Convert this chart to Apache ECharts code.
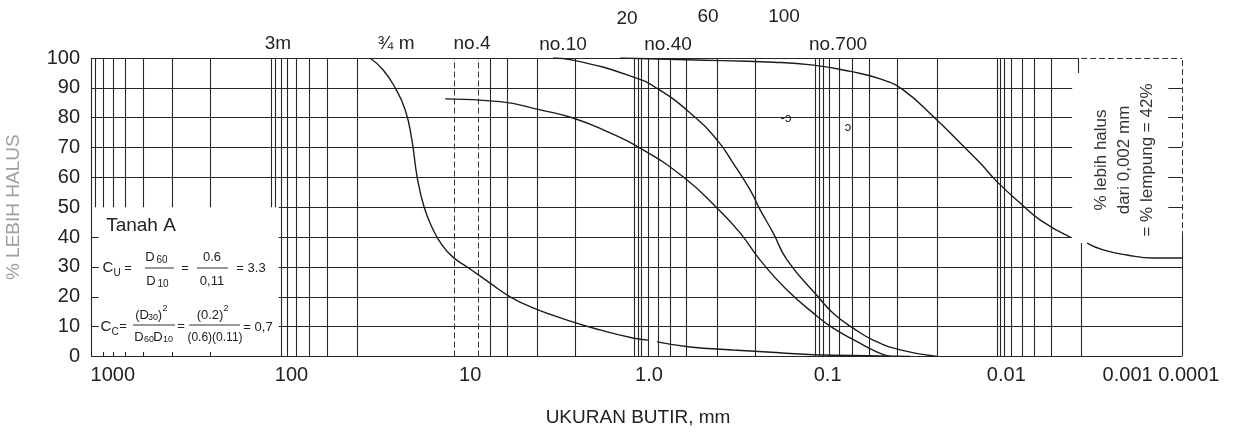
<!DOCTYPE html>
<html><head><meta charset="utf-8">
<script src="https://cdn.jsdelivr.net/npm/echarts@6/dist/echarts.min.js"></script>
<style>html,body{margin:0;padding:0;background:#fff}#c{width:1239px;height:433px}</style>
</head><body><div id="c"></div>
<script>
// ---------- axis ticks ----------
const xTickValues = [1000, 100, 10, 1, 0.1, 0.01, 0.001];
const xTickLabels = ['1000', '100', '10', '1.0', '0.1', '0.01', '0.001 0.0001'];
const yTickValues = [0, 10, 20, 30, 40, 50, 60, 70, 80, 90, 100];

// ---------- sieve annotations (top) ----------
const sieveNames = ['3m', '¾ m', 'no.4', 'no.10', 'no.40', '20', '60', '100', 'no.700'];

// ---------- grading curves: grain size (mm) / % finer ----------
const curveA_size = [36.4, 30.7, 26.3, 23.1, 21.2, 19.8, 18.1, 16.1, 14.4, 12.5, 10.4, 7.74, 5.98, 4.45, 2.87, 1.88, 1.23, 1.01, '-', 0.90, 0.588, 0.338, 0.218, 0.12, 0.0508, 0.0345];
const curveA_pct  = [100, 96, 90, 82.6, 72.5, 60, 50, 42.4, 37.4, 33.3, 30, 24.6, 20, 16.3, 12.2, 8.9, 6.2, 5.5, '-', 4.9, 3.2, 2.2, 1.5, 0.6, 0.2, 0];

const curveB_size = [13.8, 6.81, 4.06, 2.66, 1.71, 1.12, 0.644, 0.415, 0.309, 0.2385, 0.171, 0.1145, 0.0931, 0.0684, 0.0528, 0.0447];
const curveB_pct  = [86.3, 85.4, 82.6, 79.9, 75.3, 69.8, 60.2, 49.7, 41.4, 32.3, 22.6, 13.5, 9.5, 5, 1.5, 0];

const curveC_size = [3.44, 2.66, 1.23, 0.90, 0.588, 0.415, 0.338, 0.2715, 0.2385, 0.2017, 0.1684, 0.113, 0.0931, 0.0719, 0.0556, 0.0393, 0.0244];
const curveC_pct  = [100, 99.3, 93.7, 89.8, 81.6, 72.5, 64.8, 55.8, 49.1, 41.4, 32.3, 20, 14.5, 9.5, 5.5, 2.2, 0];

const curveD_size = [1.45, 0.611, 0.2, 0.12, 0.0748, 0.0508, 0.0378, 0.0247, 0.01812, 0.0140, 0.01124, 0.00837, 0.00646, 0.00439, '-', 0.00353, 0.00287, 0.00211, 0.00151, 0.00104];
const curveD_pct  = [100, 99.4, 98.6, 97.6, 95.5, 93, 89.3, 79.5, 71.5, 64.8, 58.5, 51.4, 45.7, 40, '-', 38, 35.7, 34, 33, 33];

// ---------- printed grid of the form (grain sizes, mm) ----------
const vLinesUpper  = [1258, 1135, 998, 855, 678, 466, 286, 130, 124];
const vLinesFull   = [114, 106, 94.4, 79.8, 63.3, 43.0, 7.74, 6.22, 4.22, 2.59, 1.21, 1.15, 1.106, 1.01, 0.888, 0.761, 0.619, 0.415, 0.254, 0.1174, 0.1115, 0.1059, 0.098, 0.0862, 0.0729, 0.0586, 0.0408, 0.0244, 0.01125, 0.01082, 0.01028, 0.00939, 0.00815, 0.00698, 0.00561];
const vLinesDashed = [12.3, 9.04];
const boxTicks     = [1135, 998, 855, 678, 466, 286];

const X_MAX = 1325, X_MIN = 0.001, X_RIGHT = 0.00104, X_BOX = 118, X_ANN = 0.00428;

function pairs(xs, ys) { return xs.map((x, i) => [x, ys[i]]); }
function seg(x1, y1, x2, y2) { return { coords: [[x1, y1], [x2, y2]] }; }

const solid = [], dashed = [];
vLinesUpper.forEach(v => solid.push(seg(v, 50, v, 100)));
vLinesFull.forEach(v => solid.push(seg(v, 0, v, 100)));
vLinesDashed.forEach(v => dashed.push(seg(v, 0, v, 100)));
boxTicks.forEach(v => solid.push(seg(v, 0, v, 1.5)));
// borders
solid.push(seg(X_MAX, 0, X_MAX, 100));
solid.push(seg(X_MAX, 100, X_ANN, 100));
dashed.push(seg(X_ANN, 100, X_RIGHT, 100));
solid.push(seg(X_MAX, 0, X_RIGHT, 0));
solid.push(seg(X_RIGHT, 0, X_RIGHT, 40));
dashed.push(seg(X_RIGHT, 40, X_RIGHT, 100));
solid.push(seg(0.00381, 0, 0.00381, 38));
solid.push(seg(0.00395, 95, 0.00395, 100));
// horizontal lines
[90, 80, 70, 60].forEach(y => solid.push(seg(X_MAX, y, X_ANN, y)));
[50, 40].forEach(y => solid.push(seg(X_BOX, y, X_ANN, y)));
[30, 20, 10].forEach(y => solid.push(seg(X_BOX, y, X_RIGHT, y)));
[90, 80, 70, 60, 50].forEach(y => solid.push(seg(0.00124, y, X_RIGHT, y)));
[40, 30, 20, 10].forEach(y => solid.push(seg(X_MAX, y, 1200, y)));

const FONT = '"Liberation Sans", Arial, Helvetica, sans-serif';
function T(text, x, y, size, extra) {
  return Object.assign({ type: 'text', x: x, y: y, silent: true, z: 10,
    style: { text: text, fill: '#222', font: size + 'px ' + FONT, align: 'center', verticalAlign: 'middle' } }, extra || {});
}
function L(x1, y1, x2, y2) {
  return { type: 'line', silent: true, z: 10, shape: { x1: x1, y1: y1, x2: x2, y2: y2 }, style: { stroke: '#333', lineWidth: 1 } };
}

const sievePos = [[278, 44], [396, 44], [472, 44], [563, 45], [668, 45], [627, 19], [708, 17], [784, 17], [838, 45]];
const graphics = sieveNames.map((s, i) => T(s, sievePos[i][0], sievePos[i][1], 19));
graphics.push(
  T('Tanah A', 141, 226, 19),
  // Cu row
  T('C', 108, 268, 15), T('U', 117, 273, 10), T('=', 128, 268, 13),
  T('D', 150, 257, 13), T('60', 162, 260, 10), L(145, 268, 174, 268),
  T('D', 151, 281, 13), T('10', 163, 284, 10),
  T('=', 185, 268, 13), T('0.6', 212, 257, 13), L(197, 268, 228, 268), T('0,11', 212, 281, 13),
  T('= 3.3', 251, 268, 13),
  // Cc row
  T('C', 106, 327, 15), T('C', 115, 332, 10), T('=', 123, 326, 13),
  T('(D', 142, 315, 13), T('30', 153, 318, 9), T(')', 160, 315, 13), T('2', 165, 309, 9),
  L(133, 325, 175, 325),
  T('D', 139, 337, 13), T('60', 149, 340, 9), T('D', 158, 337, 13), T('10', 168, 340, 9),
  T('=', 181, 326, 13), T('(0.2)', 210, 315, 13), T('2', 226, 309, 9),
  L(189, 325, 240, 325), T('(0.6)(0.11)', 215, 338, 12),
  T('= 0,7', 258, 327, 13),
  // scan marks
  T('-ɔ', 786, 118, 13), T('ɔ', 848, 127, 13),
  // right annotation
  T('% lebih halus\ndari 0,002 mm\n= % lempung = 42%', 1124, 160, 17,
    { rotation: Math.PI / 2, style: { text: '% lebih halus\ndari 0,002 mm\n= % lempung = 42%', fill: '#333', font: '17px ' + FONT, align: 'center', verticalAlign: 'middle', lineHeight: 23 } })
);

const curveStyle = { color: '#1c1c1c', width: 1.4 };
function curve(name, xs, ys) {
  return { name: name, type: 'line', data: pairs(xs, ys), smooth: 0.5, symbol: 'none', connectNulls: false,
    lineStyle: curveStyle, itemStyle: { color: '#1c1c1c' }, z: 5, silent: true };
}

const chart = echarts.init(document.getElementById('c'), null, { renderer: 'canvas' });
chart.setOption({
  animation: false,
  backgroundColor: '#fff',
  grid: { left: 91, right: 54, top: 58, bottom: 76.5, outerBoundsMode: 'none' },
  xAxis: {
    type: 'log', logBase: 10, inverse: true, min: X_MIN, max: X_MAX,
    axisLine: { show: false }, axisTick: { show: false }, splitLine: { show: false },
    axisLabel: {
      customValues: xTickValues, margin: 9, fontSize: 20, color: '#222', fontFamily: FONT,
      formatter: function (v) {
        const k = Math.round(Math.log10(v));
        const i = xTickValues.findIndex(t => Math.round(Math.log10(t)) === k);
        const s = i >= 0 ? xTickLabels[i] : '';
        return k === -3 ? '{r|' + s + '}' : s;
      },
      rich: { r: { fontSize: 20, color: '#222', fontFamily: FONT, padding: [0, 48, 0, 0] } }
    },
    name: 'UKURAN BUTIR, mm', nameLocation: 'middle', nameGap: 52,
    nameTextStyle: { fontSize: 19, color: '#222', fontFamily: FONT }
  },
  yAxis: {
    type: 'value', min: 0, max: 100, interval: 10,
    axisLine: { show: false }, axisTick: { show: false }, splitLine: { show: false },
    axisLabel: { customValues: yTickValues, margin: 11, fontSize: 20, color: '#222', fontFamily: FONT },
    name: '% LEBIH HALUS', nameLocation: 'middle', nameGap: 68, nameRotate: 90,
    nameTextStyle: { fontSize: 19, color: '#a0a0a0', fontFamily: FONT }
  },
  graphic: graphics,
  series: [
    { type: 'lines', coordinateSystem: 'cartesian2d', data: solid, silent: true, z: 2,
      lineStyle: { color: '#262626', width: 1.1, opacity: 1 } },
    { type: 'lines', coordinateSystem: 'cartesian2d', data: dashed, silent: true, z: 2,
      lineStyle: { color: '#333', width: 1, type: [6, 3], opacity: 1 } },
    curve('Kurva 1', curveA_size, curveA_pct),
    curve('Tanah A', curveB_size, curveB_pct),
    curve('Kurva 3', curveC_size, curveC_pct),
    curve('Kurva 4', curveD_size, curveD_pct)
  ]
});
</script></body></html>
